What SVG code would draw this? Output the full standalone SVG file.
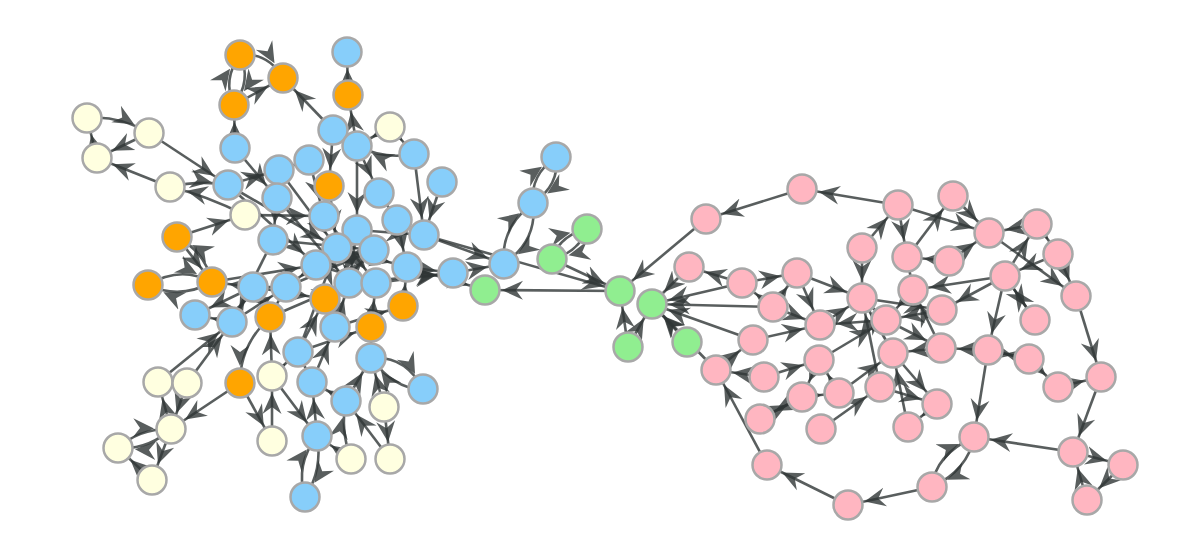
<svg xmlns="http://www.w3.org/2000/svg" width="1200" height="550" viewBox="0 0 1200 550">
<style>
.e{fill:none;stroke:#2f3636;stroke-opacity:.8;stroke-width:2.6;marker-end:url(#a)}
circle{stroke:#a8a8a8;stroke-width:2.5}
.b circle{fill:#87cefa}.o circle{fill:#ffa500}.y circle{fill:#ffffe0}.g circle{fill:#90ee90}.p circle{fill:#ffb6c1}
</style>
<defs>
<marker id="a" markerUnits="userSpaceOnUse" viewBox="0 -11 42 22" markerWidth="42" markerHeight="22" refX="38" refY="0" orient="auto">
<path d="M0,-9.5 L21,0 L0,9.5 L7,0 Z" fill="#2f3636" fill-opacity=".8"/>
</marker>
</defs>
<rect width="1200" height="550" fill="#fff"/>
<g id="edges">
<path class="e" d="M240,55 Q268,52 283,78"/>
<path class="e" d="M234,105 L283,78"/>
<path class="e" d="M234,105 Q222,80 240,55"/>
<path class="e" d="M240,55 Q252,80 234,105"/>
<path class="e" d="M333,130 L283,78"/>
<path class="e" d="M348,95 L347,52"/>
<path class="e" d="M357,146 L348,95"/>
<path class="e" d="M390,127 L357,146"/>
<path class="e" d="M87,118 Q118,115 149,133"/>
<path class="e" d="M149,133 L97,158"/>
<path class="e" d="M97,158 L87,118"/>
<path class="e" d="M149,133 L228,185"/>
<path class="e" d="M170,187 L97,158"/>
<path class="e" d="M245,215 Q205,195 170,187"/>
<path class="e" d="M170,187 Q199,180 228,185"/>
<path class="e" d="M177,237 L245,215"/>
<path class="e" d="M235,148 L234,105"/>
<path class="e" d="M333,130 L329,186"/>
<path class="e" d="M357,146 L357,230"/>
<path class="e" d="M414,154 Q385,160 357,146"/>
<path class="e" d="M414,154 L424,235"/>
<path class="e" d="M442,182 L424,235"/>
<path class="e" d="M235,148 L277,198"/>
<path class="e" d="M279,170 L337,248"/>
<path class="e" d="M309,160 L324,216"/>
<path class="e" d="M357,146 L379,193"/>
<path class="e" d="M390,127 L414,154"/>
<path class="e" d="M228,185 L316,265"/>
<path class="e" d="M245,215 L324,216"/>
<path class="e" d="M277,198 L349,283"/>
<path class="e" d="M273,240 L374,250"/>
<path class="e" d="M228,185 L337,248"/>
<path class="e" d="M324,216 L376,283"/>
<path class="e" d="M379,193 L397,220"/>
<path class="e" d="M397,220 L407,267"/>
<path class="e" d="M424,235 L504,264"/>
<path class="e" d="M424,235 L620,291"/>
<path class="e" d="M453,273 L504,264"/>
<path class="e" d="M407,267 L453,273"/>
<path class="e" d="M376,283 L453,273"/>
<path class="e" d="M407,267 L485,290"/>
<path class="e" d="M329,186 L337,248"/>
<path class="e" d="M357,230 L349,283"/>
<path class="e" d="M374,250 L316,265"/>
<path class="e" d="M316,265 L286,287"/>
<path class="e" d="M286,287 L253,287"/>
<path class="e" d="M253,287 L212,282"/>
<path class="e" d="M212,282 Q180,300 148,285"/>
<path class="e" d="M148,285 Q180,265 212,282"/>
<path class="e" d="M177,237 L212,282"/>
<path class="e" d="M212,282 Q205,252 177,237"/>
<path class="e" d="M253,287 L195,315"/>
<path class="e" d="M232,322 L195,315"/>
<path class="e" d="M158,382 L232,322"/>
<path class="e" d="M187,383 L232,322"/>
<path class="e" d="M270,317 Q240,345 240,383"/>
<path class="e" d="M272,376 L270,317"/>
<path class="e" d="M240,383 L171,429"/>
<path class="e" d="M171,429 L158,382"/>
<path class="e" d="M187,383 L171,429"/>
<path class="e" d="M118,448 Q140,428 171,429"/>
<path class="e" d="M171,429 Q148,450 118,448"/>
<path class="e" d="M171,429 L152,480"/>
<path class="e" d="M152,480 L118,448"/>
<path class="e" d="M240,383 L272,441"/>
<path class="e" d="M272,441 L272,376"/>
<path class="e" d="M272,376 L317,436"/>
<path class="e" d="M305,497 Q295,465 317,436"/>
<path class="e" d="M317,436 Q323,470 305,497"/>
<path class="e" d="M351,459 L317,436"/>
<path class="e" d="M351,459 Q340,430 346,401"/>
<path class="e" d="M390,459 L346,401"/>
<path class="e" d="M384,407 L390,459"/>
<path class="e" d="M346,401 L371,358"/>
<path class="e" d="M423,389 Q395,390 371,358"/>
<path class="e" d="M371,358 Q405,355 423,389"/>
<path class="e" d="M312,382 L335,327"/>
<path class="e" d="M298,352 L325,299"/>
<path class="e" d="M312,382 L298,352"/>
<path class="e" d="M346,401 L312,382"/>
<path class="e" d="M270,317 L286,287"/>
<path class="e" d="M232,322 L253,287"/>
<path class="e" d="M335,327 L349,283"/>
<path class="e" d="M371,327 L376,283"/>
<path class="e" d="M403,306 L407,267"/>
<path class="e" d="M325,299 L374,250"/>
<path class="e" d="M298,352 L337,248"/>
<path class="e" d="M371,358 L371,327"/>
<path class="e" d="M272,376 L298,352"/>
<path class="e" d="M317,436 L312,382"/>
<path class="e" d="M232,322 L286,287"/>
<path class="e" d="M270,317 L253,287"/>
<path class="e" d="M349,283 L453,273"/>
<path class="e" d="M337,248 L407,267"/>
<path class="e" d="M286,287 L374,250"/>
<path class="e" d="M212,282 L316,265"/>
<path class="e" d="M273,240 L232,322"/>
<path class="e" d="M384,407 L371,358"/>
<path class="e" d="M279,170 L309,160"/>
<path class="e" d="M228,185 L279,170"/>
<path class="e" d="M277,198 L273,240"/>
<path class="e" d="M270,317 L349,283"/>
<path class="e" d="M253,287 L325,299"/>
<path class="e" d="M298,352 L371,327"/>
<path class="e" d="M316,265 L376,283"/>
<path class="e" d="M357,230 L424,235"/>
<path class="e" d="M335,327 L403,306"/>
<path class="e" d="M620,291 L485,290"/>
<path class="e" d="M587,229 Q578,253 552,259"/>
<path class="e" d="M552,259 Q560,235 587,229"/>
<path class="e" d="M533,203 Q530,175 556,157"/>
<path class="e" d="M556,157 Q560,185 533,203"/>
<path class="e" d="M504,264 Q500,228 533,203"/>
<path class="e" d="M533,203 Q538,240 504,264"/>
<path class="e" d="M552,259 L620,291"/>
<path class="e" d="M628,347 L620,291"/>
<path class="e" d="M628,347 L652,304"/>
<path class="e" d="M687,342 L652,304"/>
<path class="e" d="M706,219 L620,291"/>
<path class="e" d="M689,267 L652,304"/>
<path class="e" d="M742,283 L652,304"/>
<path class="e" d="M773,307 L652,304"/>
<path class="e" d="M753,340 L652,304"/>
<path class="e" d="M716,370 L652,304"/>
<path class="e" d="M898,205 L802,189"/>
<path class="e" d="M802,189 L706,219"/>
<path class="e" d="M898,205 L989,233"/>
<path class="e" d="M953,196 L989,233"/>
<path class="e" d="M862,248 L898,205"/>
<path class="e" d="M907,257 L953,196"/>
<path class="e" d="M898,205 L907,257"/>
<path class="e" d="M989,233 L1076,296"/>
<path class="e" d="M1005,276 L1037,224"/>
<path class="e" d="M1058,254 L1005,276"/>
<path class="e" d="M1037,224 L1058,254"/>
<path class="e" d="M1076,296 L1101,377"/>
<path class="e" d="M1101,377 L1073,452"/>
<path class="e" d="M1073,452 L974,437"/>
<path class="e" d="M1073,452 L1123,465"/>
<path class="e" d="M1087,500 L1073,452"/>
<path class="e" d="M1123,465 L1087,500"/>
<path class="e" d="M974,437 Q968,470 932,487"/>
<path class="e" d="M932,487 Q935,455 974,437"/>
<path class="e" d="M932,487 L848,505"/>
<path class="e" d="M848,505 L767,465"/>
<path class="e" d="M767,465 L716,370"/>
<path class="e" d="M988,350 L974,437"/>
<path class="e" d="M893,353 L937,404"/>
<path class="e" d="M880,387 L937,404"/>
<path class="e" d="M1005,276 L942,310"/>
<path class="e" d="M1005,276 L913,290"/>
<path class="e" d="M1005,276 L988,350"/>
<path class="e" d="M1035,320 L1005,276"/>
<path class="e" d="M1029,359 L1058,387"/>
<path class="e" d="M1058,387 L1101,377"/>
<path class="e" d="M988,350 L1029,359"/>
<path class="e" d="M742,283 L689,267"/>
<path class="e" d="M742,283 L797,273"/>
<path class="e" d="M797,273 L862,298"/>
<path class="e" d="M797,273 L820,325"/>
<path class="e" d="M753,340 L820,325"/>
<path class="e" d="M773,307 L820,325"/>
<path class="e" d="M764,377 L716,370"/>
<path class="e" d="M802,397 L760,419"/>
<path class="e" d="M821,429 L880,387"/>
<path class="e" d="M908,427 L893,353"/>
<path class="e" d="M764,377 L819,360"/>
<path class="e" d="M716,370 L753,340"/>
<path class="e" d="M819,360 L802,397"/>
<path class="e" d="M839,393 L819,360"/>
<path class="e" d="M880,387 L862,298"/>
<path class="e" d="M886,320 L820,325"/>
<path class="e" d="M886,320 L941,348"/>
<path class="e" d="M941,348 L913,290"/>
<path class="e" d="M862,248 L862,298"/>
<path class="e" d="M907,257 L913,290"/>
<path class="e" d="M949,261 L907,257"/>
<path class="e" d="M862,298 L886,320"/>
<path class="e" d="M913,290 L886,320"/>
<path class="e" d="M942,310 L886,320"/>
<path class="e" d="M941,348 L893,353"/>
<path class="e" d="M988,350 L941,348"/>
<path class="e" d="M1029,359 L988,350"/>
<path class="e" d="M949,261 L989,233"/>
<path class="e" d="M820,325 L862,298"/>
<path class="e" d="M819,360 L886,320"/>
<path class="e" d="M893,353 L862,298"/>
<path class="e" d="M773,307 L742,283"/>
<path class="e" d="M862,298 L942,310"/>
<path class="e" d="M839,393 L893,353"/>
<path class="e" d="M760,419 L802,397"/>
<path class="e" d="M1037,224 L989,233"/>
<path class="e" d="M1058,254 L1076,296"/>
<path class="e" d="M1005,276 L1035,320"/>
<path class="e" d="M937,404 L908,427"/>
<path class="e" d="M802,397 L839,393"/>
<path class="e" d="M773,307 L797,273"/>
</g>
<g id="n1" class="o"><circle cx="240" cy="55" r="14.5"/></g>
<g id="n2" class="o"><circle cx="283" cy="78" r="14.5"/></g>
<g id="n3" class="o"><circle cx="234" cy="105" r="14.5"/></g>
<g id="n4" class="b"><circle cx="347" cy="52" r="14.5"/></g>
<g id="n5" class="o"><circle cx="348" cy="95" r="14.5"/></g>
<g id="n6" class="y"><circle cx="87" cy="118" r="14.5"/></g>
<g id="n7" class="y"><circle cx="149" cy="133" r="14.5"/></g>
<g id="n8" class="y"><circle cx="97" cy="158" r="14.5"/></g>
<g id="n9" class="b"><circle cx="235" cy="148" r="14.5"/></g>
<g id="n10" class="b"><circle cx="333" cy="130" r="14.5"/></g>
<g id="n11" class="y"><circle cx="390" cy="127" r="14.5"/></g>
<g id="n12" class="b"><circle cx="357" cy="146" r="14.5"/></g>
<g id="n13" class="b"><circle cx="414" cy="154" r="14.5"/></g>
<g id="n14" class="b"><circle cx="442" cy="182" r="14.5"/></g>
<g id="n15" class="y"><circle cx="170" cy="187" r="14.5"/></g>
<g id="n16" class="b"><circle cx="228" cy="185" r="14.5"/></g>
<g id="n17" class="b"><circle cx="309" cy="160" r="14.5"/></g>
<g id="n18" class="b"><circle cx="279" cy="170" r="14.5"/></g>
<g id="n19" class="o"><circle cx="329" cy="186" r="14.5"/></g>
<g id="n20" class="b"><circle cx="379" cy="193" r="14.5"/></g>
<g id="n21" class="b"><circle cx="277" cy="198" r="14.5"/></g>
<g id="n22" class="y"><circle cx="245" cy="215" r="14.5"/></g>
<g id="n23" class="b"><circle cx="324" cy="216" r="14.5"/></g>
<g id="n24" class="b"><circle cx="397" cy="220" r="14.5"/></g>
<g id="n25" class="o"><circle cx="177" cy="237" r="14.5"/></g>
<g id="n26" class="b"><circle cx="273" cy="240" r="14.5"/></g>
<g id="n27" class="b"><circle cx="424" cy="235" r="14.5"/></g>
<g id="n28" class="b"><circle cx="357" cy="230" r="14.5"/></g>
<g id="n29" class="b"><circle cx="337" cy="248" r="14.5"/></g>
<g id="n30" class="b"><circle cx="374" cy="250" r="14.5"/></g>
<g id="n31" class="b"><circle cx="316" cy="265" r="14.5"/></g>
<g id="n32" class="b"><circle cx="407" cy="267" r="14.5"/></g>
<g id="n33" class="b"><circle cx="453" cy="273" r="14.5"/></g>
<g id="n34" class="o"><circle cx="148" cy="285" r="14.5"/></g>
<g id="n35" class="o"><circle cx="212" cy="282" r="14.5"/></g>
<g id="n36" class="b"><circle cx="253" cy="287" r="14.5"/></g>
<g id="n37" class="b"><circle cx="286" cy="287" r="14.5"/></g>
<g id="n38" class="b"><circle cx="349" cy="283" r="14.5"/></g>
<g id="n39" class="b"><circle cx="376" cy="283" r="14.5"/></g>
<g id="n40" class="o"><circle cx="325" cy="299" r="14.5"/></g>
<g id="n41" class="o"><circle cx="403" cy="306" r="14.5"/></g>
<g id="n42" class="b"><circle cx="195" cy="315" r="14.5"/></g>
<g id="n43" class="b"><circle cx="232" cy="322" r="14.5"/></g>
<g id="n44" class="o"><circle cx="270" cy="317" r="14.5"/></g>
<g id="n45" class="b"><circle cx="335" cy="327" r="14.5"/></g>
<g id="n46" class="o"><circle cx="371" cy="327" r="14.5"/></g>
<g id="n47" class="b"><circle cx="298" cy="352" r="14.5"/></g>
<g id="n48" class="b"><circle cx="371" cy="358" r="14.5"/></g>
<g id="n49" class="y"><circle cx="158" cy="382" r="14.5"/></g>
<g id="n50" class="y"><circle cx="187" cy="383" r="14.5"/></g>
<g id="n51" class="o"><circle cx="240" cy="383" r="14.5"/></g>
<g id="n52" class="y"><circle cx="272" cy="376" r="14.5"/></g>
<g id="n53" class="b"><circle cx="312" cy="382" r="14.5"/></g>
<g id="n54" class="b"><circle cx="423" cy="389" r="14.5"/></g>
<g id="n55" class="b"><circle cx="346" cy="401" r="14.5"/></g>
<g id="n56" class="y"><circle cx="384" cy="407" r="14.5"/></g>
<g id="n57" class="y"><circle cx="171" cy="429" r="14.5"/></g>
<g id="n58" class="y"><circle cx="118" cy="448" r="14.5"/></g>
<g id="n59" class="y"><circle cx="272" cy="441" r="14.5"/></g>
<g id="n60" class="b"><circle cx="317" cy="436" r="14.5"/></g>
<g id="n61" class="y"><circle cx="351" cy="459" r="14.5"/></g>
<g id="n62" class="y"><circle cx="390" cy="459" r="14.5"/></g>
<g id="n63" class="y"><circle cx="152" cy="480" r="14.5"/></g>
<g id="n64" class="b"><circle cx="305" cy="497" r="14.5"/></g>
<g id="n65" class="b"><circle cx="556" cy="157" r="14.5"/></g>
<g id="n66" class="b"><circle cx="533" cy="203" r="14.5"/></g>
<g id="n67" class="g"><circle cx="587" cy="229" r="14.5"/></g>
<g id="n68" class="g"><circle cx="552" cy="259" r="14.5"/></g>
<g id="n69" class="b"><circle cx="504" cy="264" r="14.5"/></g>
<g id="n70" class="g"><circle cx="485" cy="290" r="14.5"/></g>
<g id="n71" class="g"><circle cx="620" cy="291" r="14.5"/></g>
<g id="n72" class="g"><circle cx="652" cy="304" r="14.5"/></g>
<g id="n73" class="g"><circle cx="628" cy="347" r="14.5"/></g>
<g id="n74" class="g"><circle cx="687" cy="342" r="14.5"/></g>
<g id="n75" class="p"><circle cx="802" cy="189" r="14.5"/></g>
<g id="n76" class="p"><circle cx="706" cy="219" r="14.5"/></g>
<g id="n77" class="p"><circle cx="898" cy="205" r="14.5"/></g>
<g id="n78" class="p"><circle cx="953" cy="196" r="14.5"/></g>
<g id="n79" class="p"><circle cx="989" cy="233" r="14.5"/></g>
<g id="n80" class="p"><circle cx="1037" cy="224" r="14.5"/></g>
<g id="n81" class="p"><circle cx="1058" cy="254" r="14.5"/></g>
<g id="n82" class="p"><circle cx="1076" cy="296" r="14.5"/></g>
<g id="n83" class="p"><circle cx="862" cy="248" r="14.5"/></g>
<g id="n84" class="p"><circle cx="907" cy="257" r="14.5"/></g>
<g id="n85" class="p"><circle cx="949" cy="261" r="14.5"/></g>
<g id="n86" class="p"><circle cx="1005" cy="276" r="14.5"/></g>
<g id="n87" class="p"><circle cx="689" cy="267" r="14.5"/></g>
<g id="n88" class="p"><circle cx="742" cy="283" r="14.5"/></g>
<g id="n89" class="p"><circle cx="797" cy="273" r="14.5"/></g>
<g id="n90" class="p"><circle cx="862" cy="298" r="14.5"/></g>
<g id="n91" class="p"><circle cx="913" cy="290" r="14.5"/></g>
<g id="n92" class="p"><circle cx="942" cy="310" r="14.5"/></g>
<g id="n93" class="p"><circle cx="773" cy="307" r="14.5"/></g>
<g id="n94" class="p"><circle cx="820" cy="325" r="14.5"/></g>
<g id="n95" class="p"><circle cx="886" cy="320" r="14.5"/></g>
<g id="n96" class="p"><circle cx="1035" cy="320" r="14.5"/></g>
<g id="n97" class="p"><circle cx="753" cy="340" r="14.5"/></g>
<g id="n98" class="p"><circle cx="893" cy="353" r="14.5"/></g>
<g id="n99" class="p"><circle cx="941" cy="348" r="14.5"/></g>
<g id="n100" class="p"><circle cx="988" cy="350" r="14.5"/></g>
<g id="n101" class="p"><circle cx="1029" cy="359" r="14.5"/></g>
<g id="n102" class="p"><circle cx="819" cy="360" r="14.5"/></g>
<g id="n103" class="p"><circle cx="716" cy="370" r="14.5"/></g>
<g id="n104" class="p"><circle cx="764" cy="377" r="14.5"/></g>
<g id="n105" class="p"><circle cx="1101" cy="377" r="14.5"/></g>
<g id="n106" class="p"><circle cx="802" cy="397" r="14.5"/></g>
<g id="n107" class="p"><circle cx="839" cy="393" r="14.5"/></g>
<g id="n108" class="p"><circle cx="880" cy="387" r="14.5"/></g>
<g id="n109" class="p"><circle cx="937" cy="404" r="14.5"/></g>
<g id="n110" class="p"><circle cx="1058" cy="387" r="14.5"/></g>
<g id="n111" class="p"><circle cx="760" cy="419" r="14.5"/></g>
<g id="n112" class="p"><circle cx="821" cy="429" r="14.5"/></g>
<g id="n113" class="p"><circle cx="908" cy="427" r="14.5"/></g>
<g id="n114" class="p"><circle cx="974" cy="437" r="14.5"/></g>
<g id="n115" class="p"><circle cx="1073" cy="452" r="14.5"/></g>
<g id="n116" class="p"><circle cx="1123" cy="465" r="14.5"/></g>
<g id="n117" class="p"><circle cx="767" cy="465" r="14.5"/></g>
<g id="n118" class="p"><circle cx="932" cy="487" r="14.5"/></g>
<g id="n119" class="p"><circle cx="848" cy="505" r="14.5"/></g>
<g id="n120" class="p"><circle cx="1087" cy="500" r="14.5"/></g>
</svg>
